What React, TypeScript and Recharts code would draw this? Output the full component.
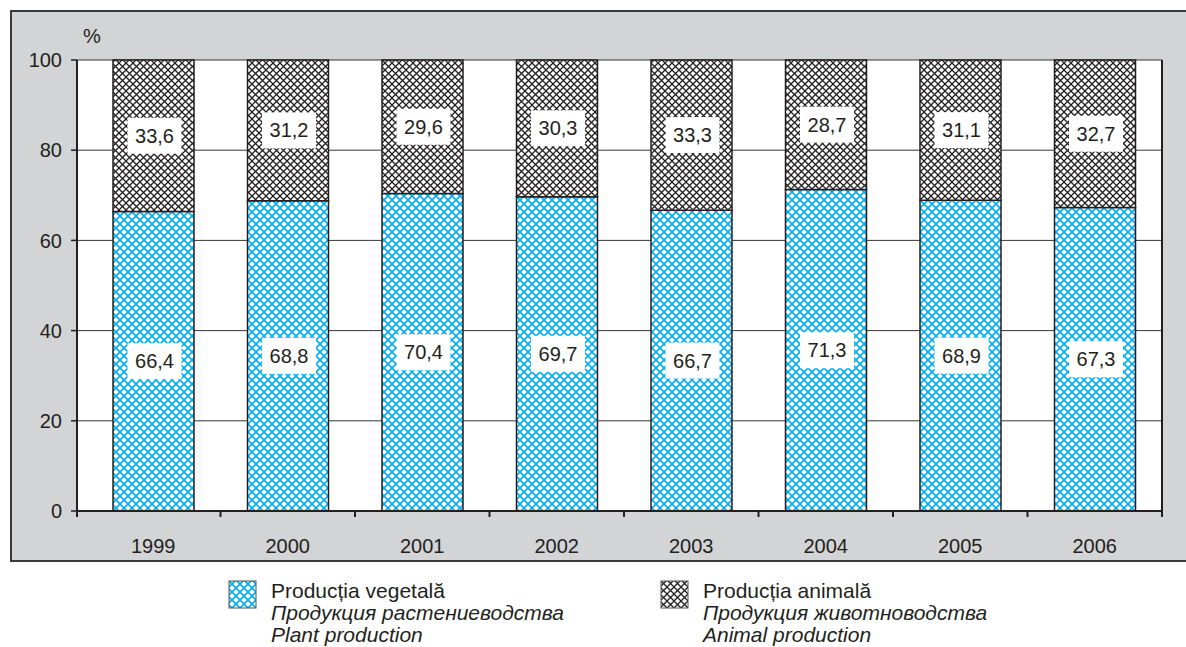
import React from 'react';
import { BarChart, Bar, XAxis, YAxis, CartesianGrid, LabelList } from 'recharts';

const years = ['1999', '2000', '2001', '2002', '2003', '2004', '2005', '2006'];
const plantShare = [66.4, 68.8, 70.4, 69.7, 66.7, 71.3, 68.9, 67.3];
const animalShare = [33.6, 31.2, 29.6, 30.3, 33.3, 28.7, 31.1, 32.7];
const yTicks = [0, 20, 40, 60, 80, 100];

const legendPlant = ['Producția vegetală', 'Продукция растениеводства', 'Plant production'];
const legendAnimal = ['Producția animală', 'Продукция животноводства', 'Animal production'];

const data = years.map((year, i) => ({ year, plant: plantShare[i], animal: animalShare[i] }));

const INK = '#231f20';
const BLUE = '#00aeef';
const FONT = '"Liberation Sans", Arial, sans-serif';
const X_PAD_LEFT = 9;

const fmt = (v: number) => v.toFixed(1).replace('.', ',');

function Patterns() {
  return (
    <defs>
      <pattern id="hatchBlue" width="8" height="8" patternUnits="userSpaceOnUse">
        <rect width="8" height="8" fill="#fff" />
        <path d="M-1,-1 L9,9 M9,-1 L-1,9" stroke={BLUE} strokeWidth="1.6" />
      </pattern>
      <pattern id="hatchBlack" width="7" height="7" patternUnits="userSpaceOnUse">
        <rect width="7" height="7" fill="#fff" />
        <path d="M-1,-1 L8,8 M8,-1 L-1,8" stroke={INK} strokeWidth="1.3" />
      </pattern>
    </defs>
  );
}

function ValueBox(props: any) {
  const { x, y, width, height, value } = props;
  const cx = x + width / 2;
  const cy = y + height / 2;
  return (
    <g>
      <rect x={cx - 26} y={cy - 18} width={54} height={36} fill="#fff" />
      <text x={cx + 1} y={cy} textAnchor="middle" dominantBaseline="central" fontSize={20} fill={INK} fontFamily={FONT}>
        {fmt(Number(value))}
      </text>
    </g>
  );
}

function YearTick(props: any) {
  const { x, y, payload, index } = props;
  const half = payload && payload.offset ? payload.offset : 67;
  const axisY = y - 8;
  return (
    <g>
      <line x1={x + half} y1={axisY} x2={x + half} y2={axisY + 6} stroke={INK} strokeWidth={2} />
      {index === 0 && (
        <line x1={x - half - X_PAD_LEFT} y1={axisY} x2={x - half - X_PAD_LEFT} y2={axisY + 6} stroke={INK} strokeWidth={2} />
      )}
      <text x={x} y={axisY + 35} textAnchor="middle" dominantBaseline="central" fontSize={20} fill={INK} fontFamily={FONT}>
        {payload.value}
      </text>
    </g>
  );
}

function LegendItem({ lines, fill, left }: { lines: string[]; fill: string; left: number }) {
  return (
    <div style={{ position: 'absolute', left, top: 580, display: 'flex', fontFamily: FONT, color: INK }}>
      <svg width={30} height={30} style={{ marginTop: 0 }}>
        <Patterns />
        <rect x={1} y={1} width={27} height={27} fill={fill} stroke="#555" strokeWidth={1} />
      </svg>
      <div style={{ marginLeft: 13, fontSize: 21, lineHeight: '22px' }}>
        <div>{lines[0]}</div>
        <div style={{ fontStyle: 'italic' }}>{lines[1]}</div>
        <div style={{ fontStyle: 'italic' }}>{lines[2]}</div>
      </div>
    </div>
  );
}

export default function App() {
  return (
    <div style={{ position: 'absolute', left: 0, top: 0, width: 1186, height: 647, background: '#fff', overflow: 'hidden' }}>
      <div
        style={{
          position: 'absolute',
          left: 10,
          top: 10,
          width: 1200,
          height: 548,
          background: '#d3d4d5',
          borderTop: '2px solid #3a3a3a',
          borderLeft: '2px solid #3a3a3a',
          borderBottom: '2px solid #3a3a3a',
        }}
      />
      <div style={{ position: 'absolute', left: 0, top: 0 }}>
        <BarChart
          width={1186}
          height={560}
          data={data}
          margin={{ top: 60, right: 14, bottom: 9, left: 10 }}
          barSize={81}
        >
          <Patterns />
          <CartesianGrid vertical={false} fill="#fff" stroke={INK} strokeOpacity={0.9} />
          <XAxis
            dataKey="year"
            height={40}
            padding={{ left: X_PAD_LEFT, right: 0 }}
            axisLine={{ stroke: INK, strokeWidth: 2 }}
            tickLine={false}
            tick={<YearTick />}
            interval={0}
          />
          <YAxis
            domain={[0, 100]}
            ticks={yTicks}
            width={67}
            tickSize={6}
            tickMargin={9}
            axisLine={{ stroke: INK, strokeWidth: 2 }}
            tickLine={{ stroke: INK, strokeWidth: 1.5 }}
            tick={{ fill: INK, fontSize: 20, fontFamily: FONT }}
            label={{ value: '%', position: 'top', offset: 0, content: () => (
              <text x={92} y={36} textAnchor="middle" dominantBaseline="central" fontSize={20} fill={INK} fontFamily={FONT}>%</text>
            ) }}
          />
          <YAxis yAxisId="right" orientation="right" width={10} tick={false} tickLine={false} axisLine={{ stroke: INK, strokeWidth: 2 }} />
          <Bar dataKey="plant" stackId="a" fill="url(#hatchBlue)" stroke={INK} strokeWidth={1.5} isAnimationActive={false}>
            <LabelList dataKey="plant" content={<ValueBox />} />
          </Bar>
          <Bar dataKey="animal" stackId="a" fill="url(#hatchBlack)" stroke={INK} strokeWidth={1.5} isAnimationActive={false}>
            <LabelList dataKey="animal" content={<ValueBox />} />
          </Bar>
        </BarChart>
      </div>
      <LegendItem lines={legendPlant} fill="url(#hatchBlue)" left={228} />
      <LegendItem lines={legendAnimal} fill="url(#hatchBlack)" left={660} />
    </div>
  );
}
